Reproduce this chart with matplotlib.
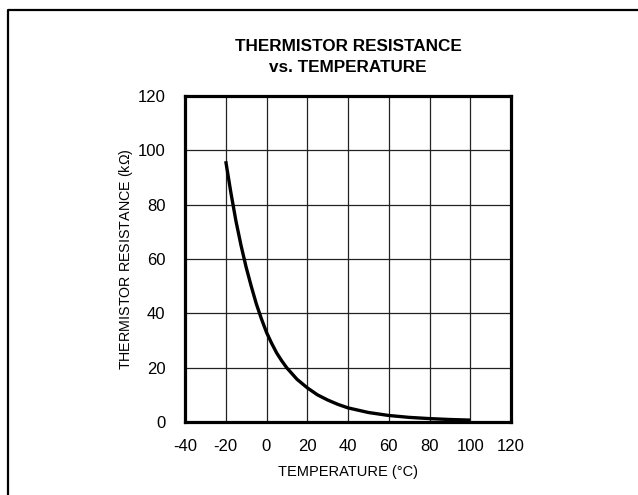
import matplotlib
matplotlib.use('Agg')
import matplotlib.pyplot as plt
from matplotlib.lines import Line2D

# thermistor curve (degC, kOhm)
temp_c = [-20, -17.5, -15, -12.5, -10, -7.5, -5, -2.5, 0, 2.5, 5, 7.5, 10, 15, 20, 25, 30,
          35, 40, 50, 60, 70, 80, 90, 100]
res_kohm = [96.0, 84.5, 74.0, 65.0, 57.0, 50.0, 43.5, 38.0, 33.0, 29.0, 25.4, 22.5, 19.9,
            15.7, 12.6, 10.0, 8.1, 6.5, 5.2, 3.5, 2.4, 1.7, 1.25, 0.92, 0.70]

x_ticks = [-40, -20, 0, 20, 40, 60, 80, 100, 120]
y_ticks = [0, 20, 40, 60, 80, 100, 120]

font = 'Liberation Sans'
plt.rcParams['axes.unicode_minus'] = False

fig = plt.figure(figsize=(6.38, 4.95), dpi=100)
ax = fig.add_axes([185/638, 73/495, 326/638, 326/495])

ax.plot(temp_c, res_kohm, color='black', lw=2.4, solid_capstyle='butt', solid_joinstyle='round')

ax.set_xlim(-40, 120)
ax.set_ylim(0, 120)
ax.set_xticks(x_ticks)
ax.set_yticks(y_ticks)
ax.grid(True, color='#222222', lw=0.9)
ax.set_axisbelow(True)
ax.tick_params(length=0, labelsize=12)
ax.tick_params(axis='x', pad=12)
ax.tick_params(axis='y', pad=14)
for lab in ax.get_xticklabels() + ax.get_yticklabels():
    lab.set_family(font)
for s in ax.spines.values():
    s.set_linewidth(2.3)

ax.set_xlabel('TEMPERATURE (°C)', family=font, fontsize=10.5, labelpad=8)
ax.set_ylabel('THERMISTOR RESISTANCE (k$\\mathregular{\\Omega}$)', family=font, fontsize=10.3, labelpad=2)

fig.text(348/638, 1 - 57/495, 'THERMISTOR RESISTANCE\nvs. TEMPERATURE', ha='center', va='center',
         family=font, fontweight='bold', fontsize=12.3, linespacing=1.45)

# frame on top and left only
fig.add_artist(Line2D([8/638, 8/638, 1], [0, 1 - 10/495, 1 - 10/495], transform=fig.transFigure,
                      color='black', lw=1.6))

fig.savefig('out.png', dpi=100)
